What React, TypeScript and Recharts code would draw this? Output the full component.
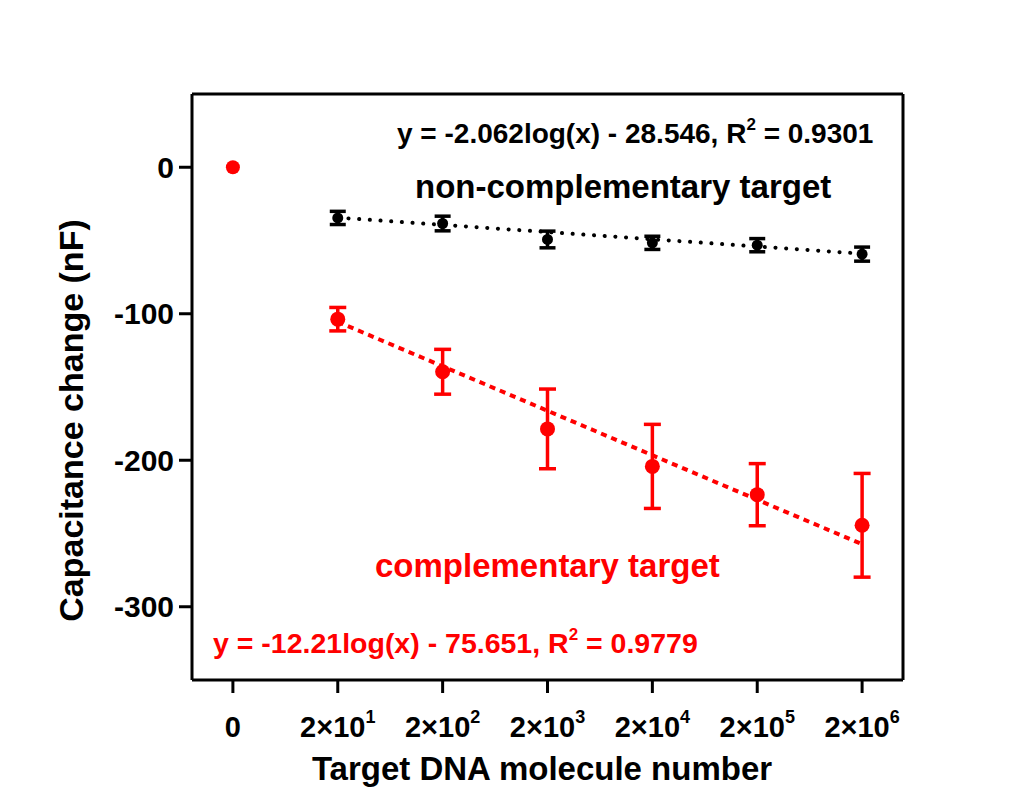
import { ScatterChart, Scatter, XAxis, YAxis, ErrorBar, ReferenceLine } from 'recharts';

// x positions are category slots: 0 = blank, then 2×10^1 … 2×10^6
const xTicks = [0, 1, 2, 3, 4, 5, 6];
const xTickBase = ['0', '2×10', '2×10', '2×10', '2×10', '2×10', '2×10'];
const xTickExp = ['', '1', '2', '3', '4', '5', '6'];
const yTicks = [-300, -200, -100, 0];
const xDomain = [-0.39, 6.39];
const yDomain = [-350, 50];

const blankX = [0];
const blankY = [0];

const nonCompX = [1, 2, 3, 4, 5, 6];
const nonCompY = [-34.6, -38.4, -49.3, -51.6, -53.2, -59.3];
const nonCompErr = [4.5, 5, 5.7, 4.5, 4.5, 4.8];

const compX = [1, 2, 3, 4, 5, 6];
const compY = [-103.7, -139.6, -178.6, -204.2, -223.5, -244.4];
const compErr = [8, 15.3, 27.2, 28.7, 21.2, 35.4];

// fitted line end points
const nonCompFitX = [1, 6];
const nonCompFitY = [-34.4, -59.0];
const compFitX = [1, 6];
const compFitY = [-105.5, -257.3];

const RED = '#ff0000';
const FONT = '"Liberation Sans", Arial, Helvetica, sans-serif';

const W = 1015;
const H = 791;

const toPts = (xs: number[], ys: number[], errs?: number[]) =>
  xs.map((x, i) => ({ x, y: ys[i], err: errs ? errs[i] : 0 }));

const blankData = toPts(blankX, blankY);
const nonCompData = toPts(nonCompX, nonCompY, nonCompErr);
const compData = toPts(compX, compY, compErr);
const nonCompFit = toPts(nonCompFitX, nonCompFitY);
const compFit = toPts(compFitX, compFitY);

// eslint-disable-next-line @typescript-eslint/no-explicit-any
function XTick(props: any) {
  const { x, y, payload } = props;
  const i = xTicks.indexOf(payload.value);
  return (
    <text
      x={x}
      y={y + 42}
      textAnchor="middle"
      fontSize={29}
      fontWeight="bold"
      fontFamily={FONT}
      fill="#000"
    >
      {xTickBase[i]}
      {xTickExp[i] ? (
        <tspan dy={-14} fontSize={18}>
          {xTickExp[i]}
        </tspan>
      ) : null}
    </text>
  );
}

const noShape = () => <g />;

const dot = (r: number, fill: string) =>
  // eslint-disable-next-line @typescript-eslint/no-explicit-any
  (p: any) => <circle cx={p.cx} cy={p.cy} r={r} fill={fill} />;

export default function App() {
  return (
    <div style={{ position: 'relative', width: W, height: H, background: '#fff' }}>
      <ScatterChart
        width={W}
        height={H}
        margin={{ top: 86, right: 120, left: 104, bottom: 59 }}
      >
        <XAxis
          dataKey="x"
          type="number"
          domain={xDomain}
          ticks={xTicks}
          interval={0}
          height={60}
          tickSize={13}
          axisLine={{ stroke: '#000', strokeWidth: 3 }}
          tickLine={{ stroke: '#000', strokeWidth: 3 }}
          tick={XTick}
        />
        <YAxis
          dataKey="y"
          type="number"
          domain={yDomain}
          ticks={yTicks}
          interval={0}
          width={80}
          tickSize={13}
          tickMargin={5}
          axisLine={{ stroke: '#000', strokeWidth: 3 }}
          tickLine={{ stroke: '#000', strokeWidth: 3 }}
          tick={{ fontSize: 30, fontWeight: 'bold', fill: '#000', fontFamily: FONT }}
        />

        {/* top and right edges of the frame */}
        <ReferenceLine y={yDomain[1]} stroke="#000" strokeWidth={3} />
        <ReferenceLine x={xDomain[1]} stroke="#000" strokeWidth={3} />

        <Scatter
          data={nonCompFit}
          shape={noShape}
          line={{ stroke: '#000', strokeWidth: 4, strokeDasharray: '0.1 10.6', strokeLinecap: 'round' }}
          isAnimationActive={false}
        />
        <Scatter
          data={compFit}
          shape={noShape}
          line={{ stroke: RED, strokeWidth: 4, strokeDasharray: '6 5' }}
          isAnimationActive={false}
        />

        <Scatter data={nonCompData} shape={dot(5.5, '#000')} isAnimationActive={false}>
          <ErrorBar dataKey="err" direction="y" width={8} stroke="#000" strokeWidth={3.5} isAnimationActive={false} />
        </Scatter>
        <Scatter data={compData} shape={dot(7.5, RED)} isAnimationActive={false}>
          <ErrorBar dataKey="err" direction="y" width={8.5} stroke={RED} strokeWidth={3.5} isAnimationActive={false} />
        </Scatter>
        <Scatter data={blankData} shape={dot(7, RED)} isAnimationActive={false} />
      </ScatterChart>

      <svg
        width={W}
        height={H}
        style={{ position: 'absolute', left: 0, top: 0, pointerEvents: 'none' }}
        fontFamily={FONT}
        fontWeight="bold"
      >
        <text x={389} y={135} fontSize={28} fill="#000">
          y = -2.062log(x) - 28.546, R
          <tspan dy={-13} fontSize={17}>2</tspan>
          <tspan dy={13}> = 0.9301</tspan>
        </text>
        <text x={407} y={190} fontSize={33} fill="#000">
          non-complementary target
        </text>
        <text x={367} y={569} fontSize={33} fill={RED}>
          complementary target
        </text>
        <text x={205} y={645} fontSize={28.5} fill={RED}>
          y = -12.21log(x) - 75.651, R
          <tspan dy={-13} fontSize={17}>2</tspan>
          <tspan dy={13}> = 0.9779</tspan>
        </text>
        <text x={534} y={772} fontSize={33} fill="#000" textAnchor="middle">
          Target DNA molecule number
        </text>
        <text
          transform="translate(75, 412.5) rotate(-90)"
          fontSize={34}
          fill="#000"
          textAnchor="middle"
        >
          Capacitance change (nF)
        </text>
      </svg>
    </div>
  );
}
